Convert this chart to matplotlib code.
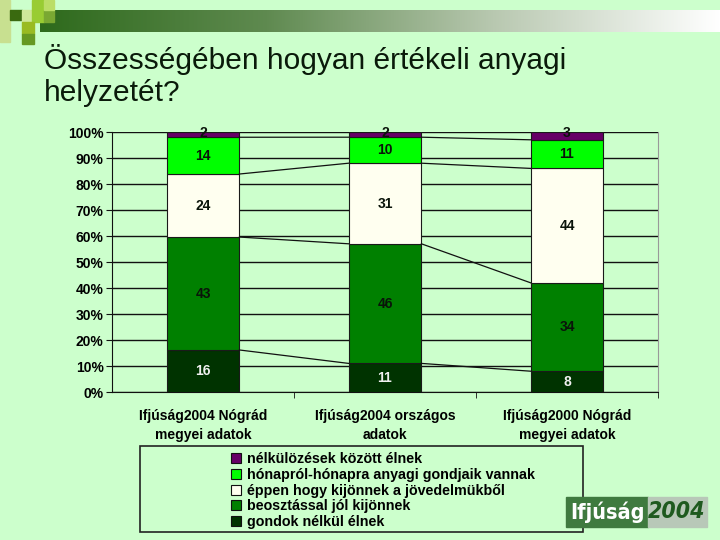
import numpy as np
import matplotlib
matplotlib.use("Agg")
import matplotlib.pyplot as plt
from matplotlib.patches import Rectangle, Patch

plt.rcParams['font.family'] = ['Liberation Sans', 'DejaVu Sans']

# --- data ---
categories = ["Ifjúság2004 Nógrád\nmegyei adatok",
              "Ifjúság2004 országos\nadatok",
              "Ifjúság2000 Nógrád\nmegyei adatok"]
series_names = ["gondok nélkül élnek",
                "beosztással jól kijönnek",
                "éppen hogy kijönnek a jövedelmükből",
                "hónapról-hónapra anyagi gondjaik vannak",
                "nélkülözések között élnek"]
gondok_nelkul = [16, 11, 8]
beosztassal = [43, 46, 34]
eppen_hogy = [24, 31, 44]
honaprol = [14, 10, 11]
nelkulozesek = [2, 2, 3]
yticks = [0, 10, 20, 30, 40, 50, 60, 70, 80, 90, 100]

colors = ["#003300", "#008000", "#FFFFF0", "#00FF00", "#660066"]
label_colors = ["#f0f0f0", "#0a140a", "#0a140a", "#0a140a", "#0a140a"]
bg = "#CCFFCC"

W, H = 720, 540
fig = plt.figure(figsize=(7.2, 5.4), dpi=100, facecolor=bg)

def px(x0, y0, x1, y1):
    return [x0 / W, 1 - y1 / H, (x1 - x0) / W, (y1 - y0) / H]

# --- decoration at top ---
deco = fig.add_axes([0, 0, 1, 1], zorder=0)
deco.set_xlim(0, W)
deco.set_ylim(H, 0)
deco.axis("off")
grad = np.linspace(0, 1, 256)[None, :]
cmap = matplotlib.colors.LinearSegmentedColormap.from_list(
    "g", ["#2e6a1c", "#5f8a50", "#b8c8b0", "#ffffff"])
deco.imshow(grad, extent=[40, 720, 32, 10], aspect="auto", cmap=cmap, zorder=1)
squares = [(0, 0, 10, 42, "#c8e090"), (10, 10, 12, 10, "#3a6a10"),
           (22, 10, 10, 12, "#cfe89a"), (32, 0, 12, 10, "#99cc33"),
           (32, 10, 12, 12, "#99cc33"), (44, 10, 10, 12, "#7aa832"),
           (22, 22, 12, 12, "#99bb22"), (22, 34, 12, 10, "#669922"),
           (44, 0, 10, 10, "#bbdd66")]
for x, y, w, h, c in squares:
    deco.add_patch(Rectangle((x, y), w, h, color=c, zorder=2))

fig.text(44 / W, 1 - 44 / H, "Összességében hogyan értékeli anyagi\nhelyzetét?",
         fontsize=21.5, color="#0a1a0a", va="top", ha="left", linespacing=1.2)

# --- chart ---
ax = fig.add_axes(px(112, 132, 658, 392), facecolor=bg, zorder=2)
data = np.array([gondok_nelkul, beosztassal, eppen_hogy, honaprol, nelkulozesek], dtype=float)
pct = data / data.sum(axis=0) * 100
x = np.arange(len(categories))
width = 0.4
bottom = np.zeros(len(categories))
tops = []
for i in range(len(series_names)):
    ax.bar(x, pct[i], width, bottom=bottom, color=colors[i],
           edgecolor="#1a1a1a", linewidth=0.8, zorder=3, label=series_names[i])
    for j in range(len(categories)):
        yc = bottom[j] + pct[i][j] / 2
        if pct[i][j] < 4:
            yc = bottom[j] + pct[i][j] - 0.3
        ax.text(x[j], yc, f"{int(data[i][j])}", ha="center", va="center",
                fontsize=10, fontweight="bold", color=label_colors[i], zorder=5)
    bottom = bottom + pct[i]
    tops.append(bottom.copy())

# series lines
for t in tops[:-1]:
    for j in range(len(categories) - 1):
        ax.plot([x[j] + width / 2, x[j + 1] - width / 2], [t[j], t[j + 1]],
                color="#111111", lw=0.9, zorder=4)

ax.set_xlim(-0.5, 2.5)
ax.set_ylim(0, 100)
ax.set_yticks(yticks)
ax.set_yticklabels([f"{v}%" for v in yticks], fontsize=10, fontweight="bold")
ax.yaxis.grid(True, color="#111111", lw=1)
ax.set_axisbelow(True)
ax.set_xticks(x)
ax.set_xticklabels(categories, fontsize=10, fontweight="bold", linespacing=1.5)
ax.set_xticks([0.5, 1.5, 2.5], minor=True)
ax.tick_params(axis="x", which="major", length=0, pad=12)
ax.tick_params(axis="x", which="minor", length=4, color="#111111")
ax.tick_params(axis="y", length=4, color="#111111", pad=2)
ax.spines["top"].set_visible(False)
ax.spines["right"].set_color("#999999")
ax.spines["left"].set_color("#111111")
ax.spines["bottom"].set_color("#111111")

# --- legend ---
deco2 = fig.add_axes([0, 0, 1, 1], zorder=3)
deco2.set_xlim(0, W)
deco2.set_ylim(H, 0)
deco2.axis("off")
deco2.add_patch(Rectangle((140, 446), 443, 86, fill=False, edgecolor="#222222", lw=1.2))
handles = [Patch(facecolor=colors[i], edgecolor="#111111", lw=0.8) for i in range(5)][::-1]
fig.legend(handles, series_names[::-1], loc="upper left",
           bbox_to_anchor=(224 / W, 1 - 445 / H), frameon=False,
           prop={"size": 10.25, "weight": "bold"}, handlelength=0.7, handleheight=0.7,
           handletextpad=0.4, labelspacing=0.12, borderpad=0)

# --- logo ---
deco2.add_patch(Rectangle((566, 497), 82, 30, color="#3f7a3f"))
deco2.add_patch(Rectangle((648, 497), 59, 30, color="#b8c8b8"))
deco2.text(607, 512, "Ifjúság", color="white", fontsize=15.5, fontweight="bold",
           ha="center", va="center", family="DejaVu Sans", fontstretch="condensed")
deco2.text(677, 512, "2004", color="#1f5a1f", fontsize=16.5, fontweight="bold",
           style="italic", ha="center", va="center", family="DejaVu Sans",
           fontstretch="condensed")

fig.savefig("out.png", dpi=100, facecolor=bg)
